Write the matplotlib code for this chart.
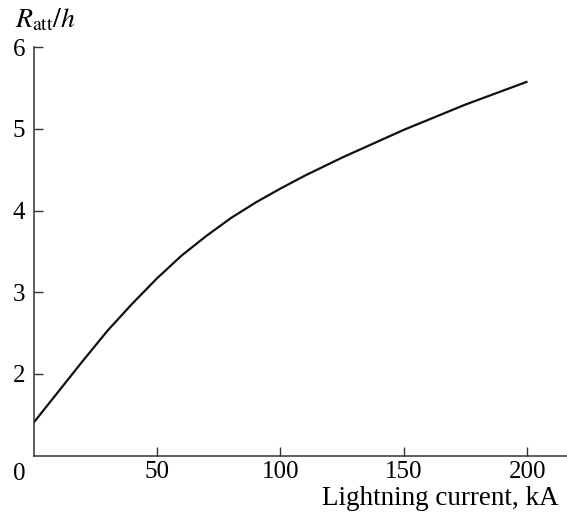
from matplotlib import pyplot as plt

# values
current_ka = [0, 10, 20, 30, 40, 50, 60, 70, 80, 90, 100, 110, 125, 150, 175, 200]
ratt_h = [1.40, 1.78, 2.16, 2.53, 2.86, 3.17, 3.45, 3.69, 3.91, 4.10, 4.27, 4.43,
          4.65, 4.99, 5.30, 5.58]
x_ticks = [50, 100, 150, 200]
y_ticks = [2, 3, 4, 5, 6]

plt.rcParams['font.family'] = ['Liberation Serif', 'DejaVu Serif']
plt.rcParams['mathtext.fontset'] = 'stix'
FS = 18

fig = plt.figure(figsize=(5.67, 5.14), dpi=100)
ax = fig.add_axes([33.5 / 567, 1 - 455.5 / 514, 1 - 33.5 / 567, (455.5 - 47.3) / 514])

ax.plot(current_ka, ratt_h, color='#111111', linewidth=1.6,
        solid_capstyle='butt', solid_joinstyle='round')

ax.set_xlim(0, 216)
ax.set_ylim(1, 6)
ax.set_xticks(x_ticks)
ax.set_yticks(y_ticks)
ax.tick_params(direction='in', length=6.5, width=1.0, labelsize=FS, color='#333333')
ax.tick_params(axis='x', pad=4)
ax.tick_params(axis='y', pad=6)

for side in ['top', 'right']:
    ax.spines[side].set_visible(False)
for side in ['left', 'bottom']:
    ax.spines[side].set_linewidth(1.1)
    ax.spines[side].set_color('#333333')

# shared origin label
ax.annotate('0', xy=(0, 1), xytext=(-5.4, -5.5), textcoords='offset points',
            ha='right', va='top', fontsize=FS)

fig.text(15 / 567, 1 - 27 / 514, r'$R_{\rm att}/h$', fontsize=20, va='baseline')
fig.text(559 / 567, 1 - 505 / 514, 'Lightning current, kA', fontsize=19.5,
         ha='right', va='baseline')

plt.savefig('out.png', dpi=100)
